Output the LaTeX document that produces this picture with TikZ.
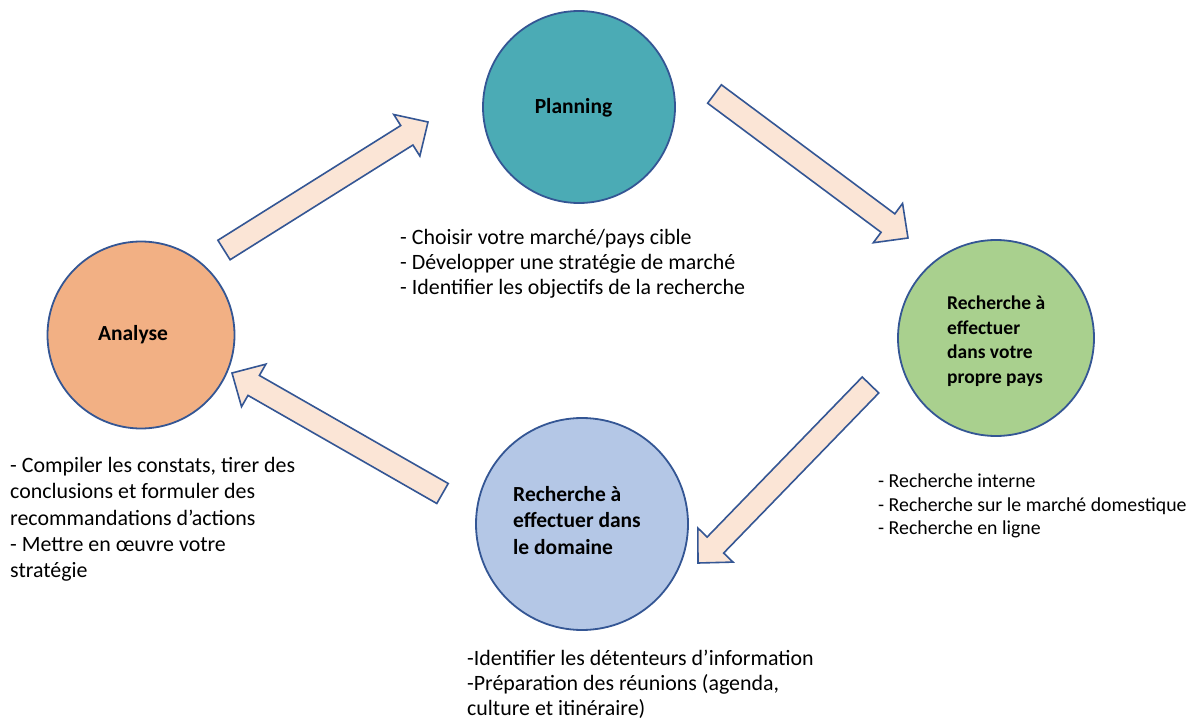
\documentclass[tikz,border=0pt]{standalone}
\usepackage{fontspec}
\setmainfont{Carlito}
\usetikzlibrary{calc}
\definecolor{edge}{RGB}{52,86,148}
\definecolor{planfill}{RGB}{75,171,181}
\definecolor{greenfill}{RGB}{169,208,142}
\definecolor{orangefill}{RGB}{242,176,132}
\definecolor{bluefill}{RGB}{180,199,230}
\definecolor{arrowfill}{RGB}{251,229,214}
\newcommand\shaftw{11.5pt}
\newcommand\headw{24.5pt}
\newcommand\headlen{25pt}
\newcommand\blockarrow[2]{%
  \coordinate (hb) at ($(#2)!\headlen!(#1)$);
  \draw[blockarr] ($(#1)!\shaftw!90:(#2)$) -- ($(hb)!\shaftw!90:(#2)$) -- ($(hb)!\headw!90:(#2)$) -- (#2)
    -- ($(hb)!\headw!-90:(#2)$) -- ($(hb)!\shaftw!-90:(#2)$) -- ($(#1)!\shaftw!-90:(#2)$) -- cycle;}
\begin{document}
\begin{tikzpicture}[x=1pt,y=-1pt,
  phase/.style={circle,draw=edge,line width=1.8pt,inner sep=0pt},
  blockarr/.style={draw=edge,fill=arrowfill,line width=1.6pt,line join=miter},
  title/.style={font=\fontsize{21.5}{26}\selectfont\bfseries,inner sep=0pt,align=left},
  lst/.style={font=\fontsize{21.9}{25}\selectfont,inner sep=0pt,align=left,anchor=north west}]
\useasboundingbox[fill=white] (0,0) rectangle (1194,722);
% circles
\node[phase,fill=planfill,minimum size=192pt] (P) at (579,107) {};
\node[phase,fill=greenfill,minimum size=196pt] (G) at (996,338) {};
\node[phase,fill=orangefill,minimum size=187pt] (A) at (141,335) {};
\node[phase,fill=bluefill,minimum size=212pt] (B) at (582,524) {};
% titles
\node[title] (Pt) at (573.5,107.5) {Planning};
\node[title] (At) at (133,335) {Analyse};
\node[title,anchor=north west,font=\fontsize{19.5}{24.4}\selectfont\bfseries] (Gt) at (947,296) {Recherche à\\effectuer\\dans votre\\propre pays};
\node[title,anchor=north west,font=\fontsize{21.5}{26.7}\selectfont\bfseries] (Bt) at (513,486) {Recherche à\\effectuer dans\\le domaine};
% lists
\node[lst] (Pl) at (400,229) {- Choisir votre marché/pays cible\\- Développer une stratégie de marché\\- Identifier les objectifs de la recherche};
\node[lst,font=\fontsize{19.8}{23.3}\selectfont] (Gl) at (878,474) {- Recherche interne\\- Recherche sur le marché domestique\\- Recherche en ligne};
\node[lst,font=\fontsize{21.9}{26.3}\selectfont] (Al) at (10,457) {- Compiler les constats, tirer des\\conclusions et formuler des\\recommandations d’actions\\- Mettre en œuvre votre\\stratégie};
\node[lst,font=\fontsize{21.9}{25}\selectfont] (Bl) at (467,650) {-Identifier les détenteurs d’information\\-Préparation des réunions (agenda,\\culture et itinéraire)};
% arrow ends
\coordinate (a1t) at (224,250); \coordinate (a1h) at (428,122);
\coordinate (a2t) at (714.5,94); \coordinate (a2h) at (908,238);
\coordinate (a3t) at (870.5,385); \coordinate (a3h) at (698,563);
\coordinate (a4t) at (442.5,493.5); \coordinate (a4h) at (232,373);
\blockarrow{a1t}{a1h}
\blockarrow{a2t}{a2h}
\blockarrow{a3t}{a3h}
\blockarrow{a4t}{a4h}
\end{tikzpicture}
\end{document}
